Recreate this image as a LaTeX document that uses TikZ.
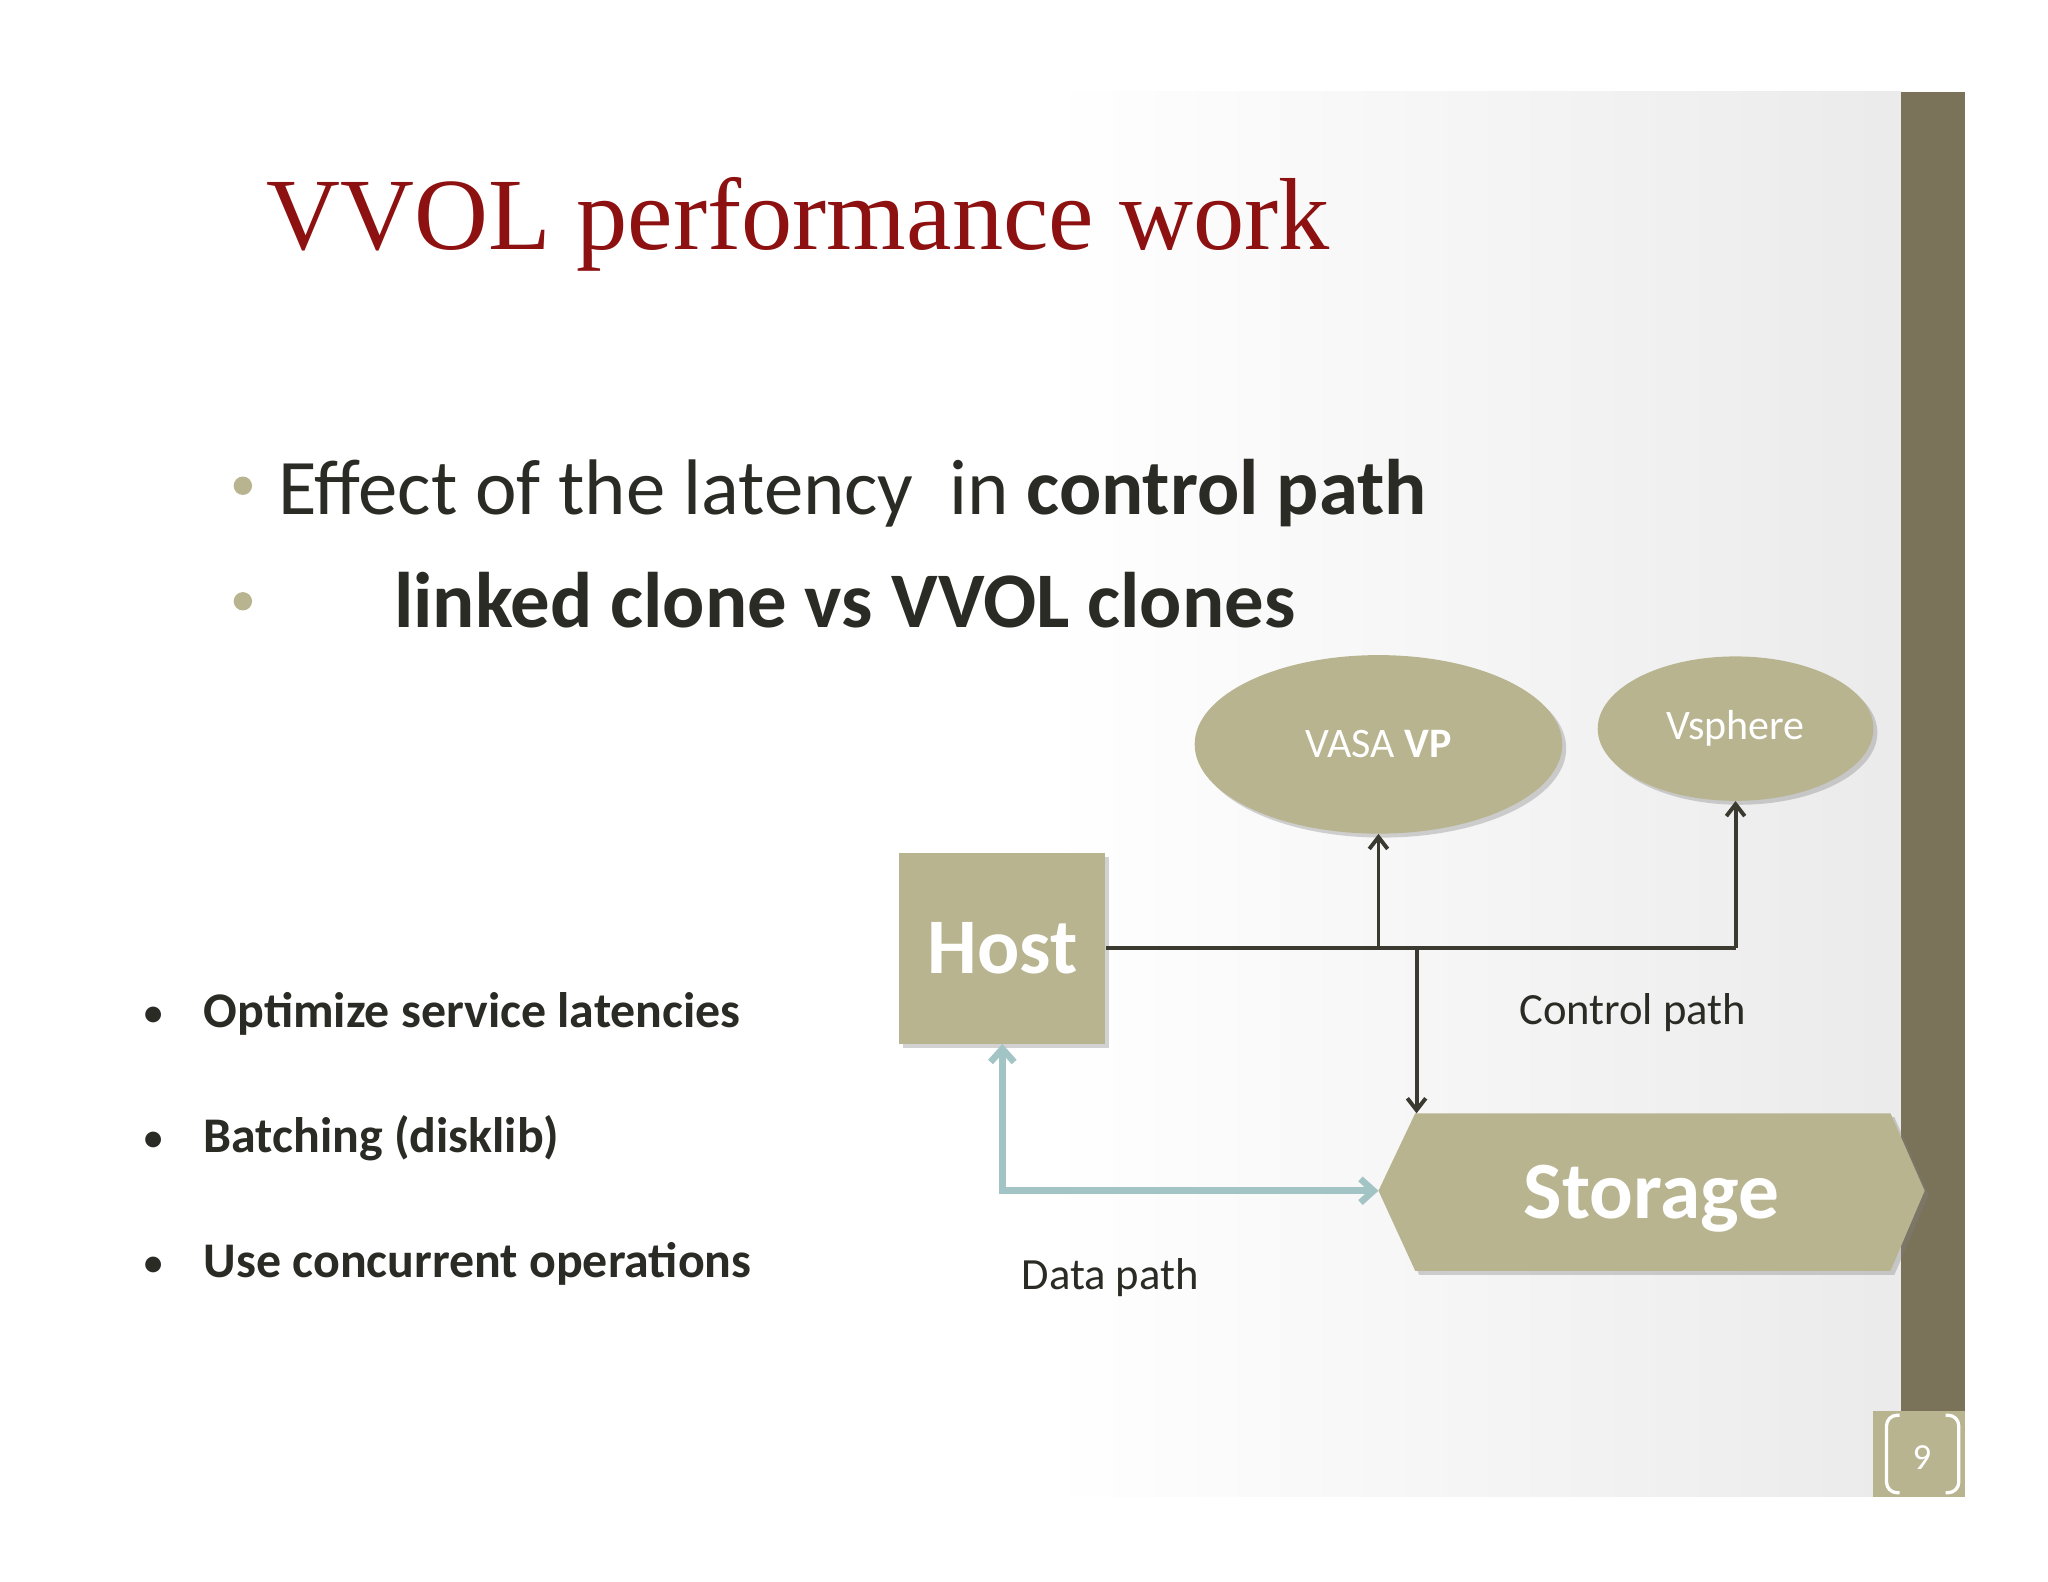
\documentclass[tikz,border=0pt]{standalone}
\usepackage{fontspec}
\setmainfont{Carlito}
\newfontfamily\titlefont{Liberation Serif}
\usetikzlibrary{shapes.geometric,shadows,arrows.meta}
\definecolor{olive}{HTML}{B8B48F}
\definecolor{barc}{HTML}{7A7259}
\definecolor{ink}{HTML}{2B2B26}
\definecolor{title}{HTML}{8E1111}
\definecolor{datac}{HTML}{A3C4C4}
\definecolor{linec}{HTML}{3A3A30}
\newcommand{\fs}[1]{\fontsize{#1}{#1}\selectfont}
\begin{document}
\begin{tikzpicture}[x=1pt,y=-1pt,
  box/.style={fill=olive,draw=none,drop shadow={opacity=0.35,shadow xshift=3pt,shadow yshift=-3pt}},
  ctrl/.style={draw=linec,line width=3pt,-{Straight Barb[length=9pt,width=14pt]}},
  data/.style={draw=datac,line width=5pt,{Straight Barb[length=10pt,width=18pt]}-{Straight Barb[length=10pt,width=18pt]}},
  lbl/.style={text=ink,font=\fs{34},anchor=base west,inner sep=0},
  bul/.style={text=ink,font=\bfseries\fs{38},anchor=base west,inner sep=0}]
\useasboundingbox (0,0) rectangle (1560,1205);
\fill[white] (0,0) rectangle (1560,1205);
\shade[left color=white,right color=black!8] (800,70) rectangle (1448,1140);
\fill[barc] (1448,70) rectangle (1497,1075);
\fill[olive] (1427,1075) rectangle (1497,1140);
\draw[white,line width=2.5pt,rounded corners=8pt] (1447,1078) -- (1437,1078) -- (1437,1137) -- (1447,1137);
\draw[white,line width=2.5pt,rounded corners=8pt] (1482,1078) -- (1492,1078) -- (1492,1137) -- (1482,1137);
\node[text=white,font=\fs{28}] (pg) at (1464,1110) {9};
% title
\node[text=title,font=\titlefont\fs{78},anchor=base west,inner sep=0] (t) at (203,190) {VVOL performance work};
% bullets top
\fill[olive] (185,370) circle (7);
\node[text=ink,font=\fs{60},anchor=base west,inner sep=0] (b1) at (212,392) {Effect of the latency\ \ in \textbf{control path}};
\fill[olive] (185,458) circle (7);
\node[text=ink,font=\bfseries\fs{60},anchor=base west,inner sep=0] (b2) at (300,478) {linked clone vs VVOL clones};
% left bullets
\foreach \y/\t [count=\i] in {783/{Optimize service latencies},878/{Batching (disklib)},973/{Use concurrent operations}}{
  \node[text=ink,font=\fs{34},anchor=base west,inner sep=0] (d\i) at (108,\y) {•};
  \node[bul] (l\i) at (155,\y) {\t};
}
% shapes
\node[box,ellipse,minimum width=280pt,minimum height=136pt,text=white,font=\fs{32}] (vasa) at (1050,567) {VASA \textbf{VP}};
\node[box,ellipse,minimum width=210pt,minimum height=110pt,text=white,font=\fs{32}] (vs) at (1322,555) {Vsphere};
\node[box,minimum width=157pt,minimum height=145pt,text=white,font=\bfseries\fs{60}] (host) at (763.5,722.5) {Host};
\fill[olive,drop shadow={opacity=0.35,shadow xshift=3pt,shadow yshift=-3pt}] (1050,907) -- (1078,848) -- (1440,848) -- (1466,907) -- (1440,968) -- (1078,968) -- cycle;
\node[text=white,font=\bfseries\fs{62}] (st) at (1258,913) {Storage};
\coordinate (stl) at (1050,907);
\coordinate (stt) at (1079,848);
% connectors
\coordinate (j1) at (1050,722);
\coordinate (j2) at (1079,722);
\coordinate (j3) at (1322,722);
\draw[linec,line width=3pt] (host.east |- j1) -- (j3);
\draw[ctrl] (j1) -- (vasa.south);
\draw[ctrl] (j3) -- (vs.south);
\draw[ctrl] (j2) -- (stt);
\draw[data] (host.south) |- (stl);
\node[lbl] (cp) at (1157,780) {Control path};
\node[lbl] (dp) at (778,982) {Data path};
\end{tikzpicture}
\end{document}
